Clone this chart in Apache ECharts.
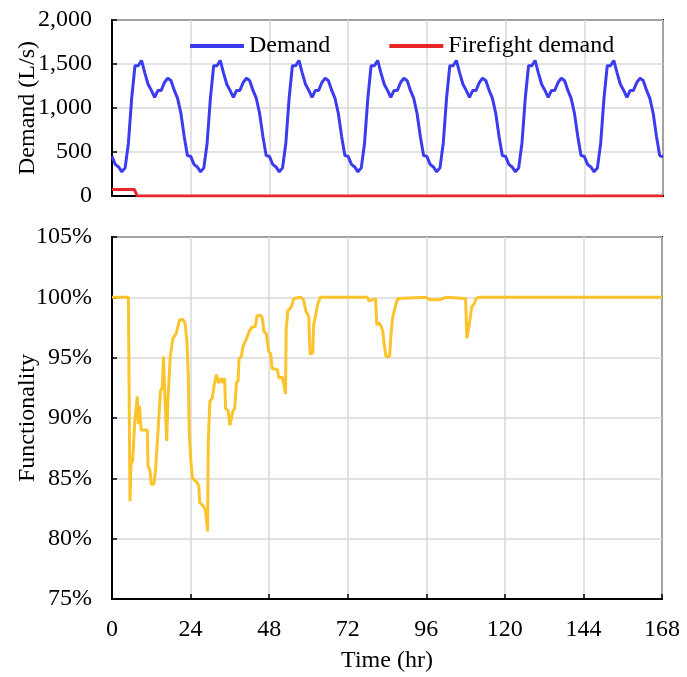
<!DOCTYPE html>
<html>
<head>
<meta charset="utf-8">
<script src="https://cdn.jsdelivr.net/npm/echarts@6/dist/echarts.min.js"></script>
<style>
    html, body { margin: 0; padding: 0; background: #fff; }
    #chart { width: 687px; height: 677px; }
</style>
</head>
<body>
<div id="chart"></div>
<script>
    // hourly demand (L/s), hour 0 .. 168
    let demand = [
        450, 360, 330, 275, 320, 600, 1110, 1480, 1480, 1540, 1400, 1270, 1200, 1120, 1200, 1200, 1290, 1340, 1310, 1200, 1110, 940, 680, 460,
        450, 360, 330, 275, 320, 600, 1110, 1480, 1480, 1540, 1400, 1270, 1200, 1120, 1200, 1200, 1290, 1340, 1310, 1200, 1110, 940, 680, 460,
        450, 360, 330, 275, 320, 600, 1110, 1480, 1480, 1540, 1400, 1270, 1200, 1120, 1200, 1200, 1290, 1340, 1310, 1200, 1110, 940, 680, 460,
        450, 360, 330, 275, 320, 600, 1110, 1480, 1480, 1540, 1400, 1270, 1200, 1120, 1200, 1200, 1290, 1340, 1310, 1200, 1110, 940, 680, 460,
        450, 360, 330, 275, 320, 600, 1110, 1480, 1480, 1540, 1400, 1270, 1200, 1120, 1200, 1200, 1290, 1340, 1310, 1200, 1110, 940, 680, 460,
        450, 360, 330, 275, 320, 600, 1110, 1480, 1480, 1540, 1400, 1270, 1200, 1120, 1200, 1200, 1290, 1340, 1310, 1200, 1110, 940, 680, 460,
        450, 360, 330, 275, 320, 600, 1110, 1480, 1480, 1540, 1400, 1270, 1200, 1120, 1200, 1200, 1290, 1340, 1310, 1200, 1110, 940, 680, 460,
        445
    ];

    let fireTime = [0, 6.8, 7.7, 168];
    let fireValue = [75, 75, 0, 0];

    // functionality (%) vs time (hr)
    let funcTime = [
        0, 5.0, 5.5, 5.8, 6.3, 6.9, 7.4, 7.7, 8.1, 8.4, 8.9, 10.8, 11.0, 11.6, 12.0, 12.8, 13.3, 14.0, 14.6, 14.8,
        15.4, 15.7, 16.3, 16.7, 17.1, 17.6, 17.8, 18.6, 19.6, 20.2, 20.6, 21.5, 22.3, 22.9, 23.3, 23.6, 24.1, 24.6, 25.8, 26.5,
        26.8, 27.9, 28.6, 29.2, 29.4, 29.9, 30.6, 31.2, 31.9, 32.6, 33.4, 33.9, 34.4, 34.7, 35.5, 36.0, 36.5, 37.0, 37.5, 38.0,
        38.5, 38.8, 39.5, 40.0, 40.5, 41.1, 41.8, 42.6, 43.8, 44.3, 45.4, 45.9, 46.4, 47.1, 47.9, 48.5, 48.9, 50.5, 51.0, 52.0,
        52.5, 53.0, 53.2, 53.7, 54.5, 55.0, 55.5, 57.7, 58.5, 59.3, 60.1, 60.5, 61.3, 61.6, 62.4, 62.8, 63.6, 78.0, 78.5, 79.5,
        80.5, 80.9, 81.5, 82.2, 82.7, 83.2, 83.7, 84.8, 85.2, 85.7, 86.7, 87.3, 96, 97, 100, 102, 108.0, 108.4, 109.1, 109.9,
        110.7, 111.2, 112, 168
    ];
    let funcValue = [
        100, 100, 83.1, 86.1, 86.5, 89.4, 89.5, 91.8, 89.5, 91.0, 89.0, 89.0, 86.0, 85.7, 84.5, 84.5, 85.7, 88.6, 88.6, 92.2,
        92.6, 95.1, 95.1, 88.1, 91.6, 91.6, 95.1, 96.6, 97.0, 97.1, 98.1, 98.2, 97.9, 96.3, 93.6, 88.7, 86.4, 85.0, 84.7, 84.4,
        83.0, 82.7, 82.3, 80.6, 88.1, 91.4, 91.6, 92.7, 93.6, 92.9, 93.3, 92.9, 93.3, 90.8, 90.6, 89.4, 89.4, 90.6, 90.8, 92.9,
        93.1, 94.9, 95.1, 95.9, 95.9, 96.6, 97.1, 97.5, 97.6, 98.5, 98.5, 98.3, 97.2, 97.0, 95.5, 95.3, 94.1, 94.0, 93.3, 93.4,
        92.8, 92.0, 97.3, 98.9, 99.1, 99.4, 99.9, 100, 99.8, 98.8, 98.4, 95.3, 95.4, 97.7, 98.8, 99.4, 100, 100, 99.7, 99.8,
        99.9, 97.7, 97.9, 97.6, 97.2, 96.0, 95.1, 95.1, 96.9, 98.3, 99.4, 99.9, 100, 99.8, 99.8, 100, 99.9, 96.6, 97.7, 99.2,
        99.5, 99.9, 100, 100
    ];

    let timeTicks = { min: 0, max: 168, interval: 24 };
    let font = '"Liberation Serif", "Times New Roman", serif';
    let fs = 24;

    let chart = echarts.init(document.getElementById('chart'));

    let demandData = demand.map((v, i) => [i, v]);
    let fireData = fireTime.map((t, i) => [t, fireValue[i]]);
    let funcData = funcTime.map((t, i) => [t, funcValue[i]]);

    let gridLine = { show: true, lineStyle: { color: '#d9d9d9', width: 1.5 } };
    let blackLine = { show: true, onZero: false, lineStyle: { color: '#000', width: 2 } };
    let inTick = { show: true, inside: true, length: 5, lineStyle: { color: '#000', width: 1.5 } };
    let txt = { fontFamily: font, fontSize: fs, color: '#000' };

    let option = {
        backgroundColor: '#fff',
        textStyle: { fontFamily: font },
        animation: false,
        legend: {
            data: ['Demand', 'Firefight demand'],
            left: 185,
            top: 29,
            icon: 'rect',
            itemWidth: 54,
            itemHeight: 4,
            itemGap: 59,
            textStyle: txt
        },
        grid: [
            {
                left: 112, right: 24, top: 20, height: 176, show: true, borderColor: '#000', borderWidth: 2,
                containLabel: false, outerBoundsMode: 'none'
            },
            {
                left: 112, right: 25, top: 237, height: 362, show: true, borderColor: '#000', borderWidth: 2,
                containLabel: false, outerBoundsMode: 'none'
            }
        ],
        xAxis: [
            {
                type: 'value', gridIndex: 0, min: timeTicks.min, max: timeTicks.max, interval: timeTicks.interval,
                axisLine: blackLine,
                axisTick: { show: false },
                axisLabel: { show: false },
                splitLine: gridLine
            },
            {
                type: 'value', gridIndex: 1, min: timeTicks.min, max: timeTicks.max, interval: timeTicks.interval,
                name: 'Time (hr)', nameLocation: 'middle', nameGap: 50, nameMoveOverlap: false,
                nameTextStyle: txt,
                axisLine: blackLine,
                axisTick: inTick,
                axisLabel: Object.assign({ margin: 19 }, txt),
                splitLine: gridLine
            }
        ],
        yAxis: [
            {
                type: 'value', gridIndex: 0, min: 0, max: 2000, interval: 500,
                name: 'Demand (L/s)', nameLocation: 'middle', nameGap: 72, nameMoveOverlap: false,
                nameTextStyle: txt,
                axisLine: blackLine,
                axisTick: inTick,
                axisLabel: Object.assign({
                    margin: 20,
                    formatter: function (v) { return v.toLocaleString('en-US'); }
                }, txt),
                splitLine: gridLine
            },
            {
                type: 'value', gridIndex: 1, min: 75, max: 105, interval: 5,
                name: 'Functionality', nameLocation: 'middle', nameGap: 72, nameMoveOverlap: false,
                nameTextStyle: txt,
                axisLine: blackLine,
                axisTick: inTick,
                axisLabel: Object.assign({ margin: 20, formatter: '{value}%' }, txt),
                splitLine: gridLine
            }
        ],
        series: [
            {
                name: 'Demand', type: 'line', xAxisIndex: 0, yAxisIndex: 0,
                showSymbol: false, data: demandData,
                color: '#3b3bf0',
                lineStyle: { color: '#3b3bf0', width: 3 }
            },
            {
                name: 'Firefight demand', type: 'line', xAxisIndex: 0, yAxisIndex: 0,
                showSymbol: false, data: fireData,
                color: '#e8262a',
                lineStyle: { color: '#e8262a', width: 3 }
            },
            {
                name: 'Functionality', type: 'line', xAxisIndex: 1, yAxisIndex: 1,
                showSymbol: false, data: funcData,
                color: '#fcc42c',
                lineStyle: { color: '#fcc42c', width: 3 }
            }
        ]
    };

    chart.setOption(option);
</script>
</body>
</html>
